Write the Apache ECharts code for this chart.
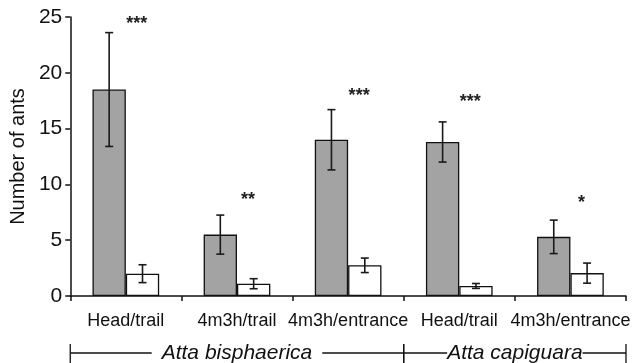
<!DOCTYPE html>
<html><head><meta charset="utf-8">
<script src="https://cdn.jsdelivr.net/npm/echarts@6/dist/echarts.min.js"></script>
<style>html,body{margin:0;padding:0;background:#fff}#c{width:635px;height:363px}</style>
</head><body><div id="c"></div>
<script>
var categories = ['Head/trail', '4m3h/trail', '4m3h/entrance', 'Head/trail', '4m3h/entrance'];
var grayValues = [18.5, 5.5, 14.0, 13.8, 5.3];
var grayErrors = [5.1, 1.75, 2.7, 1.8, 1.5];
var whiteValues = [2.0, 1.1, 2.75, 0.9, 2.05];
var whiteErrors = [0.8, 0.45, 0.65, 0.22, 0.9];
var sigLabels = ['***', '**', '***', '***', '*'];
var sigY = [24.7, 9.0, 18.3, 17.7, 8.7];
var groups = [{name: 'Atta bisphaerica', from: 0, to: 2}, {name: 'Atta capiguara', from: 3, to: 4}];
var yTicks = [0, 5, 10, 15, 20, 25];

var FONT = '"Liberation Sans", Arial, sans-serif';
var chart = echarts.init(document.getElementById('c'), null, {renderer: 'canvas'});

function errSeries(vals, errs, sign) {
  return {
    type: 'custom',
    z: 10,
    data: vals.map(function (v, i) { return [i, v - errs[i], v + errs[i]]; }),
    renderItem: function (params, api) {
      var bw = api.size([1, 0])[0];
      var off = sign * bw * 0.6 / 4;
      var lo = api.coord([api.value(0), api.value(1)]);
      var hi = api.coord([api.value(0), api.value(2)]);
      var x = lo[0] + off;
      var cap = 4;
      var st = {stroke: '#1a1a1a', lineWidth: 1.6};
      return {type: 'group', children: [
        {type: 'line', shape: {x1: x, y1: lo[1], x2: x, y2: hi[1]}, style: st},
        {type: 'line', shape: {x1: x - cap, y1: lo[1], x2: x + cap, y2: lo[1]}, style: st},
        {type: 'line', shape: {x1: x - cap, y1: hi[1], x2: x + cap, y2: hi[1]}, style: st}
      ]};
    }
  };
}

var option = {
  animation: false,
  grid: {left: 63, right: 9, top: 17, bottom: 67},
  xAxis: {
    type: 'category',
    data: categories,
    axisLine: {lineStyle: {color: '#111', width: 1.5}},
    axisTick: {show: true, length: 5, lineStyle: {color: '#111', width: 1.5}},
    axisLabel: {interval: 0, color: '#111', fontFamily: FONT, fontSize: 18, margin: 16}
  },
  yAxis: {
    type: 'value', min: 0, max: 25, interval: 5,
    name: 'Number of ants', nameLocation: 'middle', nameGap: 32,
    nameTextStyle: {color: '#111', fontFamily: FONT, fontSize: 20},
    splitLine: {show: false},
    axisLine: {show: true, lineStyle: {color: '#111', width: 1.5}},
    axisTick: {show: true, length: 5, lineStyle: {color: '#111', width: 1.5}},
    axisLabel: {color: '#111', fontFamily: FONT, fontSize: 21, margin: 8,
      formatter: function (v) { return yTicks.indexOf(v) >= 0 ? String(v) : ''; }}
  },
  series: [
    {type: 'bar', data: grayValues, barGap: '0%', barCategoryGap: '40%',
      itemStyle: {color: '#a3a3a3', borderColor: '#111', borderWidth: 1.3}},
    {type: 'bar', data: whiteValues, barGap: '0%', barCategoryGap: '40%',
      itemStyle: {color: '#ffffff', borderColor: '#111', borderWidth: 1.3}},
    errSeries(grayValues, grayErrors, -1),
    errSeries(whiteValues, whiteErrors, 1),
    {
      type: 'custom', z: 11,
      data: sigY.map(function (y, i) { return [i, y]; }),
      renderItem: function (params, api) {
        var p = api.coord([api.value(0), api.value(1)]);
        return {type: 'text', x: p[0] + 11, y: p[1] + 4,
          style: {text: sigLabels[params.dataIndex], fill: '#222', font: 'bold 18px ' + FONT,
            textAlign: 'center', textVerticalAlign: 'middle'}};
      }
    }
  ]
};
chart.setOption(option);

// group brackets under the category labels, derived from the axis scale
var c0 = chart.convertToPixel({xAxisIndex: 0}, 0);
var c1 = chart.convertToPixel({xAxisIndex: 0}, 1);
var bw = c1 - c0;
var y0 = chart.convertToPixel({yAxisIndex: 0}, 0);
var yl = y0 + 57;
var els = [];
var st = {stroke: '#111', lineWidth: 1.3};
groups.forEach(function (g, gi) {
  var xa = chart.convertToPixel({xAxisIndex: 0}, g.from) - bw / 2;
  var xb = chart.convertToPixel({xAxisIndex: 0}, g.to) + bw / 2;
  els.push({type: 'line', shape: {x1: xa, y1: yl, x2: xb, y2: yl}, style: st});
  els.push({type: 'line', shape: {x1: xa, y1: yl - 9, x2: xa, y2: yl + 10}, style: st});
  els.push({type: 'line', shape: {x1: xb, y1: yl - 9, x2: xb, y2: yl + 10}, style: st});
  els.push({type: 'text', x: (xa + xb) / 2, y: yl, z: 5,
    style: {text: g.name, fill: '#111', font: 'italic 21px ' + FONT, textAlign: 'center',
      textVerticalAlign: 'middle', backgroundColor: '#fff', padding: gi === 0 ? [0, 10] : [0, 0]}});
});
chart.setOption({graphic: {elements: els}});
</script></body></html>
